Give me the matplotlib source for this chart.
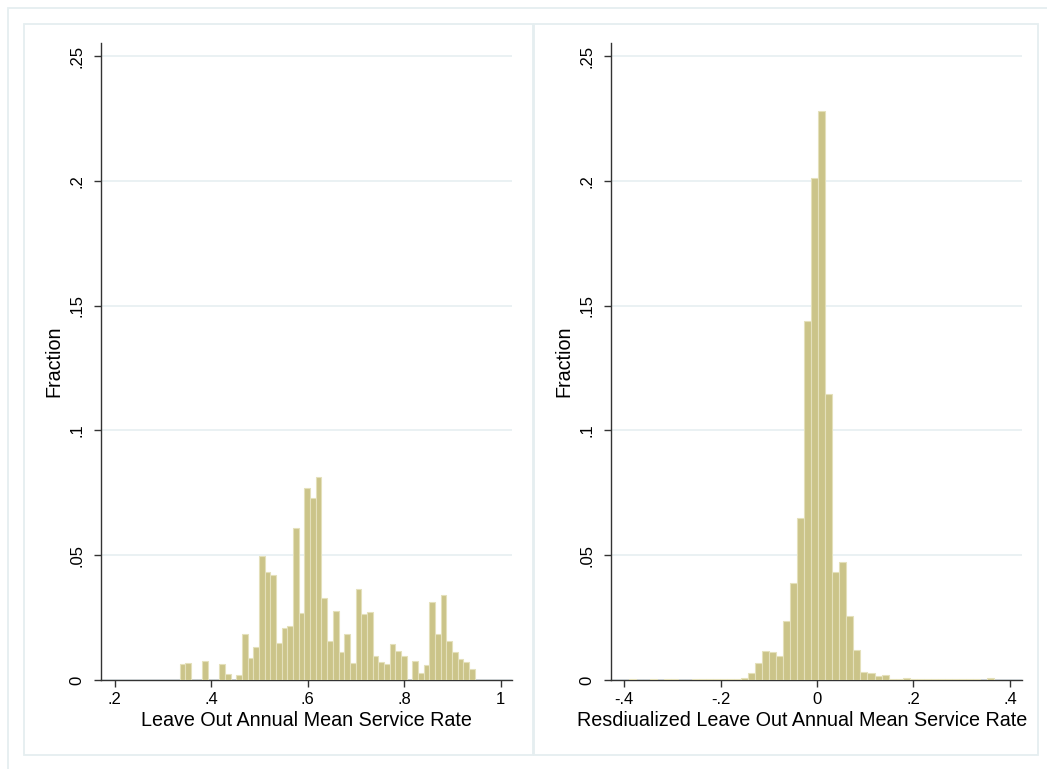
import numpy as np
import matplotlib
matplotlib.use("Agg")
import matplotlib.pyplot as plt
from matplotlib.patches import Rectangle

# histogram fractions (52 bins each)
left_start = 0.335
left_width = 0.01175
left_frac = [0.0065, 0.0069, 0, 0, 0.0078, 0, 0, 0.0065, 0.0024, 0,
             0.0019, 0.0183, 0.0089, 0.0133, 0.0496, 0.0432, 0.0419, 0.0150, 0.0209, 0.0218,
             0.0610, 0.0270, 0.0771, 0.0731, 0.0814, 0.0327, 0.0158, 0.0275, 0.0114, 0.0185,
             0.0069, 0.0364, 0.0266, 0.0273, 0.0097, 0.0071, 0.0063, 0.0144, 0.0117, 0.0098,
             0, 0.0075, 0.0028, 0.0060, 0.0314, 0.0185, 0.0340, 0.0155, 0.0111, 0.0083,
             0.0071, 0.0043]

right_start = -0.3904
right_width = 0.01456
right_frac = [0.0006, 0, 0, 0.0005, 0, 0.0005, 0.0005, 0, 0, 0.0004,
              0.0005, 0.0005, 0.0005, 0.0005, 0.0006, 0.0006, 0.0007, 0.0029, 0.0069, 0.0116,
              0.0112, 0.0096, 0.0236, 0.0390, 0.0648, 0.1438, 0.2011, 0.2278, 0.1145, 0.0431,
              0.0471, 0.0256, 0.0120, 0.0033, 0.0027, 0.0016, 0.0020, 0.0006, 0.0005, 0.0007,
              0.0005, 0.0004, 0.0005, 0.0004, 0.0004, 0.0004, 0.0005, 0.0004, 0.0004, 0.0004,
              0, 0.0009]

yticks = [0, 0.05, 0.1, 0.15, 0.2, 0.25]
ytick_labels = ["0", ".05", ".1", ".15", ".2", ".25"]
left_xticks = [0.2, 0.4, 0.6, 0.8, 1.0]
left_xlabels = [".2", ".4", ".6", ".8", "1"]
right_xticks = [-0.4, -0.2, 0, 0.2, 0.4]
right_xlabels = ["-.4", "-.2", "0", ".2", ".4"]

plt.rcParams['font.family'] = ['Liberation Sans', 'DejaVu Sans']

W, H = 1047, 769
fig = plt.figure(figsize=(W / 100, H / 100), dpi=100)

box_col = '#e5eef0'
def px_rect(x0, y0, x1, y1):
    return Rectangle((x0 / W, 1 - y1 / H), (x1 - x0) / W, (y1 - y0) / H,
                     transform=fig.transFigure, fill=False, ec=box_col, lw=1.3)

fig.patches.append(px_rect(7.5, 7.5, 1200, 900))
fig.patches.append(px_rect(24, 24, 533, 755))
fig.patches.append(px_rect(534, 24, 1038, 755))

bar_face = '#cbc489'
bar_edge = '#e4e0bb'


def hist_panel(rect, start, width, frac, xlim, xticks, xlabels, xlabel, label_x=0.5):
    ax = fig.add_axes(rect)
    edges = start + width * np.arange(len(frac))
    ax.bar(edges, frac, width=width, align='edge', color=bar_face,
           edgecolor=bar_edge, linewidth=0.8, zorder=3)
    ax.set_xlim(*xlim)
    ax.set_ylim(0, 0.2552)
    ax.set_yticks(yticks)
    ax.set_yticklabels(ytick_labels, rotation=90, va='center')
    ax.set_xticks(xticks)
    ax.set_xticklabels(xlabels)
    ax.yaxis.grid(True, color='#e8f0f2', lw=1.3, zorder=0)
    ax.set_axisbelow(True)
    for s in ['top', 'right']:
        ax.spines[s].set_visible(False)
    for s in ['left', 'bottom']:
        ax.spines[s].set_color('#333333')
        ax.spines[s].set_linewidth(1.0)
    ax.tick_params(axis='both', length=5, width=1.0, color='#333333',
                   labelsize=12, labelcolor='black')
    ax.tick_params(axis='x', pad=4)
    ax.tick_params(axis='y', pad=7)
    ax.set_xlabel(xlabel, fontsize=14.2, labelpad=2)
    ax.xaxis.set_label_coords(label_x, -0.048)
    ax.set_ylabel("Fraction", fontsize=14.2, labelpad=4)
    return ax


bottom = 1 - 680 / H
height = (680 - 43) / H
hist_panel([101 / W, bottom, 411 / W, height], left_start, left_width, left_frac,
           (0.172, 1.0234), left_xticks, left_xlabels,
           "Leave Out Annual Mean Service Rate")
# Stata pushes the long label left so it stays inside the graph region
hist_panel([610.7 / W, bottom, 411.3 / W, height], right_start, right_width, right_frac,
           (-0.4276, 0.4249), right_xticks, right_xlabels,
           "Resdiualized Leave Out Annual Mean Service Rate", label_x=0.466)

fig.savefig("out.png", dpi=100)
